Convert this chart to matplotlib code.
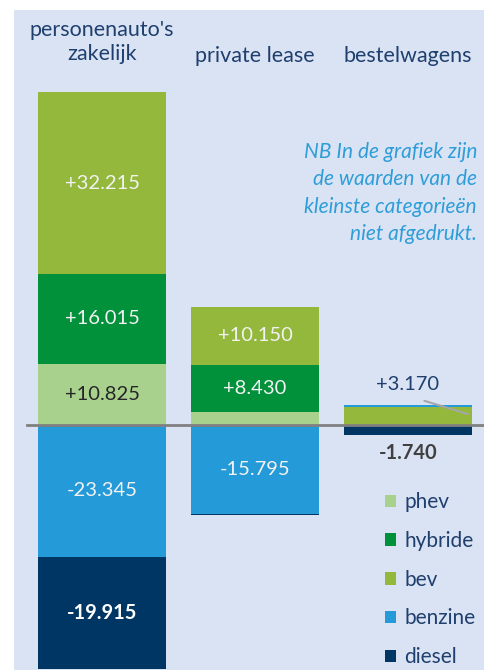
import matplotlib.pyplot as plt
from matplotlib.patches import Rectangle, Patch

plt.rcParams['font.family'] = ['Lato', 'DejaVu Sans']

categories = ["personenauto's\nzakelijk", 'private lease', 'bestelwagens']
phev = [10825, 2300, 0]
hybride = [16015, 8430, 0]
bev = [32215, 10150, 3170]
benzine = [-23345, -15795, 350]
diesel = [-19915, -250, -1740]

colors = {'phev': '#a9d18e', 'hybride': '#00913a', 'bev': '#93b83b',
          'benzine': '#259ad9', 'diesel': '#003664'}
bg = '#dae3f3'
txt_blue = '#1f3f6e'

fig = plt.figure(figsize=(4.84, 6.7), dpi=100)
fig.patches.append(Rectangle((14 / 484, 0), 1, 660 / 670, transform=fig.transFigure,
                             facecolor=bg, edgecolor='none', zorder=-5))
ax = fig.add_axes([0, 0, 1, 1])
ax.set_facecolor('none')
ax.set_xlim(-102 / 153, 382 / 153)
ax.set_ylim(-245 * 177.5, 425 * 177.5)
ax.axis('off')

x = list(range(len(categories)))
w = 0.837
fs = 14.5

pos_bottom = [0.0] * 3
neg_bottom = [0.0] * 3
for name, vals in [('phev', phev), ('hybride', hybride), ('bev', bev),
                   ('benzine', benzine), ('diesel', diesel)]:
    for i, v in enumerate(vals):
        if v >= 0:
            b = pos_bottom[i]
            pos_bottom[i] += v
        else:
            b = neg_bottom[i]
            neg_bottom[i] += v
        ax.bar(x[i], v, bottom=b, width=w, color=colors[name], zorder=2)
        if abs(v) > 5000:
            if name == 'phev':
                c, fw = '#262626', 'normal'
            elif name == 'diesel':
                c, fw = 'white', 'bold'
            else:
                c, fw = '#f2f2f2', 'normal'
            s = ('+' if v > 0 else '-') + f'{abs(v):,}'.replace(',', '.')
            ax.text(x[i], b + v / 2, s, ha='center', va='center',
                    fontsize=fs, color=c, fontweight=fw, zorder=4)

ax.axhline(0, xmin=27 / 484, xmax=1, color='#808080', lw=2, zorder=3)

ax.text(2, 7100, '+3.170', ha='center', va='center', fontsize=fs,
        color=txt_blue, zorder=4)
ax.annotate('', xy=(2.41, 1775), xytext=(2.09, 4437),
            arrowprops=dict(arrowstyle='-', color='#a6a6a6', lw=1.5), zorder=4)
ax.text(2, -5000, '-1.740', ha='center', va='center', fontsize=fs,
        color='#404040', fontweight='bold', zorder=4)

ax.text(0, (425 - 42) * 177.5, categories[0], ha='center', va='center',
        fontsize=15.5, color=txt_blue, linespacing=1.25)
for i in (1, 2):
    ax.text(x[i], (425 - 56) * 177.5, categories[i], ha='center',
            va='center', fontsize=15.5, color=txt_blue)

fig.text(477 / 484, 1 - 193 / 670,
         'NB In de grafiek zijn\nde waarden van de\nkleinste categorieën\nniet afgedrukt.',
         ha='right', va='center', fontsize=15, style='italic', color='#2e9dd8',
         linespacing=1.45)

handles = [Patch(facecolor=colors[k], edgecolor='none')
           for k in ['phev', 'hybride', 'bev', 'benzine', 'diesel']]
fig.legend(handles, ['phev', 'hybride', 'bev', 'benzine', 'diesel'],
           loc='lower left', bbox_to_anchor=(366 / 484, -16 / 670), frameon=False,
           fontsize=15, labelcolor=txt_blue, handlelength=0.55,
           handleheight=0.55, handletextpad=0.4, labelspacing=0.9)

fig.savefig('out.png', dpi=100, facecolor='white')
